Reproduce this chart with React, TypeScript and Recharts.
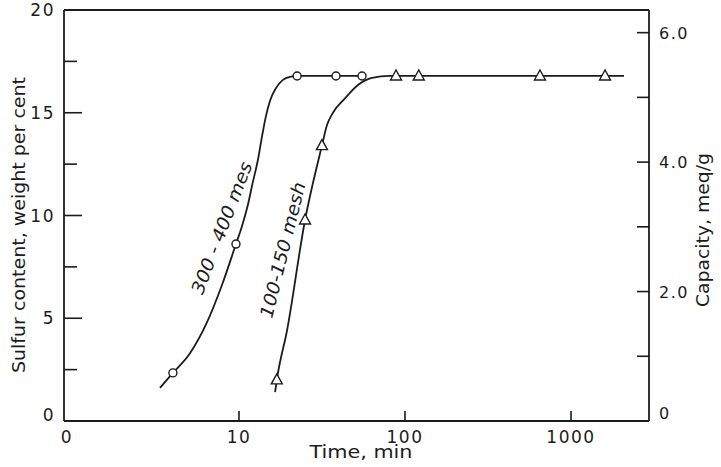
import { LineChart, Line, XAxis, YAxis, ReferenceLine } from 'recharts';

// time (min, log scale) vs sulfur content (wt %)
const curve300 = [
  { x: 3.34, y: 1.61 },
  { x: 4.0, y: 2.34 },
  { x: 5.07, y: 3.3 },
  { x: 6.33, y: 4.7 },
  { x: 7.9, y: 6.62 },
  { x: 9.59, y: 8.61 },
  { x: 10.4, y: 9.45 },
  { x: 11.3, y: 10.5 },
  { x: 12.1, y: 11.6 },
  { x: 13.0, y: 12.7 },
  { x: 13.8, y: 13.9 },
  { x: 14.5, y: 14.8 },
  { x: 15.4, y: 15.6 },
  { x: 16.7, y: 16.2 },
  { x: 18.4, y: 16.6 },
  { x: 20.3, y: 16.75 },
  { x: 22.4, y: 16.79 },
  { x: 55.8, y: 16.79 },
];
const points300 = [
  { x: 4.0, y: 2.34 },
  { x: 9.59, y: 8.61 },
  { x: 22.4, y: 16.79 },
  { x: 38.4, y: 16.79 },
  { x: 55.1, y: 16.79 },
];
const curve150 = [
  { x: 16.5, y: 1.41 },
  { x: 16.9, y: 2.0 },
  { x: 19.5, y: 4.43 },
  { x: 25.0, y: 9.78 },
  { x: 31.6, y: 13.4 },
  { x: 33.9, y: 14.4 },
  { x: 36.8, y: 15.0 },
  { x: 43.5, y: 15.7 },
  { x: 52.1, y: 16.35 },
  { x: 63.2, y: 16.7 },
  { x: 81, y: 16.79 },
  { x: 2085, y: 16.79 },
];
const points150 = [
  { x: 16.9, y: 2.0 },
  { x: 25.0, y: 9.78 },
  { x: 31.6, y: 13.4 },
  { x: 88.3, y: 16.79 },
  { x: 121, y: 16.79 },
  { x: 650, y: 16.79 },
  { x: 1603, y: 16.79 },
];

const xTicks = [0.883, 10, 100, 1000];
const xTickLabels = ['0', '10', '100', '1000'];
const leftTicks = [0, 2.5, 5, 7.5, 10, 12.5, 15, 17.5, 20];
const rightTicks = [0, 1, 2, 3, 4, 5, 6];
const rightTickLabels: Record<number, string> = { 0: '0', 2: '2.0', 4: '4.0', 6: '6.0' };

const ink = '#1c1c1c';
const tickFont = { fontFamily: 'DejaVu Sans', fontSize: 17, letterSpacing: 1.5, fill: ink };

function LeftTick({ x, y, payload }: any) {
  const v = payload.value;
  const major = v % 5 === 0;
  return (
    <g>
      {v !== 0 && v !== 20 && (
        <line x1={x} x2={x + (major ? 18 : 13)} y1={y} y2={y} stroke={ink} strokeWidth={1.6} />
      )}
      {major && (
        <text x={x - 9} y={v === 0 ? y - 6 : y} dy={6} textAnchor="end" {...tickFont}>
          {v}
        </text>
      )}
    </g>
  );
}

function RightTick({ x, y, payload }: any) {
  const v = payload.value;
  const label = rightTickLabels[v];
  return (
    <g>
      {v !== 0 && <line x1={x} x2={x - 12} y1={y} y2={y} stroke={ink} strokeWidth={1.6} />}
      {label && (
        <text x={x + 10} y={v === 0 ? y - 8 : y} dy={6} textAnchor="start" {...tickFont} fontSize={16}>
          {label}
        </text>
      )}
    </g>
  );
}

function BottomTick({ x, y, payload, index }: any) {
  return (
    <g>
      {index > 0 && <line x1={x} x2={x} y1={y} y2={y - 10} stroke={ink} strokeWidth={1.6} />}
      <text x={x + (index === 0 ? 3 : 0)} y={y + 22} textAnchor="middle" {...tickFont}>
        {xTickLabels[index]}
      </text>
    </g>
  );
}

const circleDot = (p: any) => (
  <circle key={p.index} cx={p.cx} cy={p.cy} r={4} fill="#fff" stroke={ink} strokeWidth={1.4} />
);
const triangleDot = (p: any) => (
  <polygon
    key={p.index}
    points={`${p.cx},${p.cy - 6} ${p.cx - 5.5},${p.cy + 4} ${p.cx + 5.5},${p.cy + 4}`}
    fill="#fff"
    stroke={ink}
    strokeWidth={1.4}
  />
);

const labelFont = { fontFamily: 'DejaVu Sans', fontSize: 17, fill: ink };

export default function App() {
  return (
    <div style={{ position: 'absolute', left: 0, top: 0, width: 721, height: 467, background: '#fff' }}>
      <LineChart width={721} height={467} margin={{ top: 10, right: 0, bottom: 0, left: 0 }}>
        <XAxis
          dataKey="x"
          type="number"
          scale="log"
          domain={[0.883, 2950]}
          allowDataOverflow
          ticks={xTicks}
          interval={0}
          height={46}
          tickLine={false}
          tickSize={0}
          tickMargin={0}
          axisLine={{ stroke: ink, strokeWidth: 1.8 }}
          tick={<BottomTick />}
        />
        <YAxis
          yAxisId="left"
          type="number"
          domain={[0, 20]}
          ticks={leftTicks}
          interval={0}
          width={64}
          tickLine={false}
          tickSize={0}
          tickMargin={0}
          axisLine={{ stroke: ink, strokeWidth: 1.8 }}
          tick={<LeftTick />}
        />
        <YAxis
          yAxisId="right"
          orientation="right"
          type="number"
          domain={[0, 6.35]}
          allowDataOverflow
          ticks={rightTicks}
          interval={0}
          width={72}
          tickLine={false}
          tickSize={0}
          tickMargin={0}
          axisLine={{ stroke: ink, strokeWidth: 1.8 }}
          tick={<RightTick />}
        />
        <ReferenceLine yAxisId="left" y={20} stroke={ink} strokeWidth={1.8} />
        <Line yAxisId="left" data={curve300} dataKey="y" type="monotone" stroke={ink} strokeWidth={1.8} dot={false} isAnimationActive={false} />
        <Line yAxisId="left" data={curve150} dataKey="y" type="monotone" stroke={ink} strokeWidth={1.8} dot={false} isAnimationActive={false} />
        <Line yAxisId="left" data={points300} dataKey="y" stroke="none" dot={circleDot} isAnimationActive={false} />
        <Line yAxisId="left" data={points150} dataKey="y" stroke="none" dot={triangleDot} isAnimationActive={false} />
      </LineChart>
      <svg width={721} height={467} style={{ position: 'absolute', left: 0, top: 0, pointerEvents: 'none' }}>
        <text transform="translate(25,225) rotate(-90)" textAnchor="middle" textLength={296} lengthAdjust="spacingAndGlyphs" {...labelFont}>
          Sulfur content, weight per cent
        </text>
        <text transform="translate(709,230) rotate(-90)" textAnchor="middle" textLength={154} lengthAdjust="spacingAndGlyphs" {...labelFont}>
          Capacity, meq/g
        </text>
        <text x={361} y={458} textAnchor="middle" textLength={103} lengthAdjust="spacingAndGlyphs" {...labelFont}>
          Time, min
        </text>
        <text transform="translate(222,228) rotate(-69)" dy={6} textAnchor="middle" textLength={140} lengthAdjust="spacingAndGlyphs" {...labelFont} fontSize={18} fontStyle="italic">
          300 - 400 mes
        </text>
        <text transform="translate(283,250) rotate(-76)" dy={6} textAnchor="middle" textLength={139} lengthAdjust="spacingAndGlyphs" {...labelFont} fontSize={18} fontStyle="italic">
          100-150 mesh
        </text>
      </svg>
    </div>
  );
}
